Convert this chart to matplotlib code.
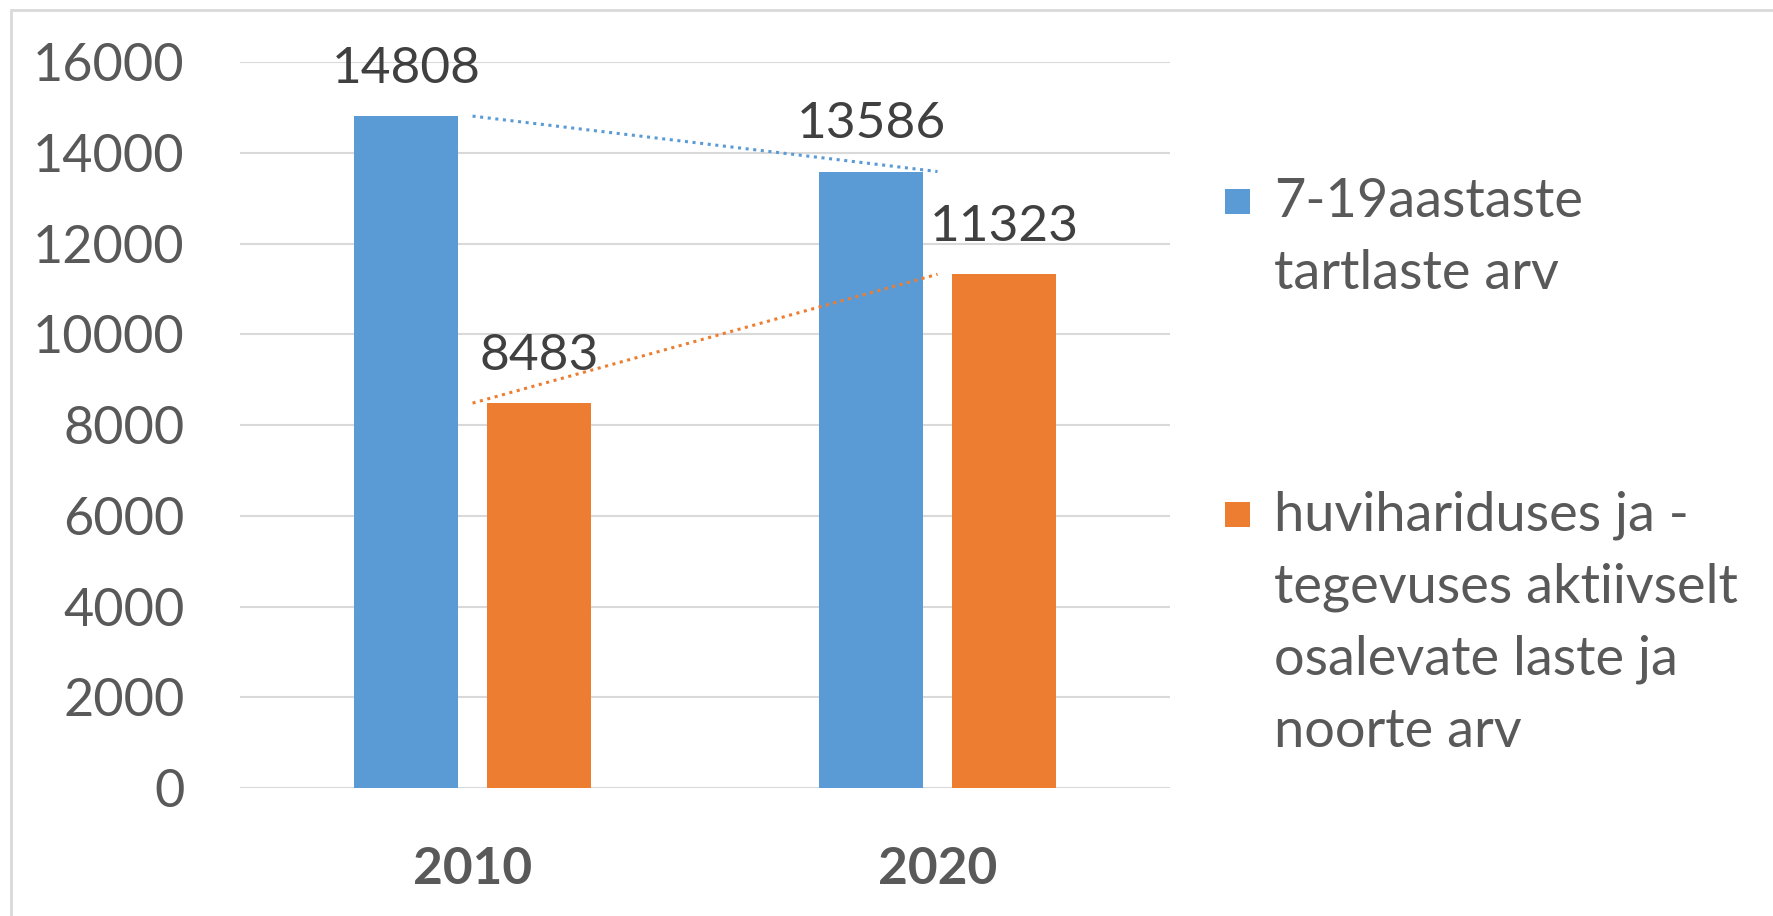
import matplotlib.pyplot as plt
import numpy as np
from matplotlib.patches import Rectangle

# data
years = ["2010", "2020"]
children_total = [14808, 13586]
children_active = [8483, 11323]
legend_labels = ["7-19aastaste\ntartlaste arv",
                 "huvihariduses ja -\ntegevuses aktiivselt\nosalevate laste ja\nnoorte arv"]
y_ticks = [0, 2000, 4000, 6000, 8000, 10000, 12000, 14000, 16000]

BLUE = "#5B9BD5"
ORANGE = "#ED7D31"
TICK_GREY = "#595959"
LABEL_GREY = "#404040"
FONT = "Lato"

plt.rcParams["font.family"] = [FONT, "DejaVu Sans"]

fig = plt.figure(figsize=(17.73, 9.16), dpi=100)
ax = fig.add_axes([0.1354, 0.1397, 0.5245, 0.7926])

x = np.arange(len(years))
width = 0.224
gap = 0.062
offset = (width + gap) / 2

bars_blue = ax.bar(x - offset, children_total, width, color=BLUE, zorder=2)
bars_orange = ax.bar(x + offset, children_active, width, color=ORANGE, zorder=2)

# value labels above each bar
for bars in (bars_blue, bars_orange):
    for b in bars:
        ax.annotate(f"{int(b.get_height())}", (b.get_x() + b.get_width() / 2, b.get_height()),
                    xytext=(0, 34), textcoords="offset points", ha="center", va="center",
                    fontsize=37, color=LABEL_GREY)

# linear trendlines, dotted
for vals, col in ((children_total, BLUE), (children_active, ORANGE)):
    k, c = np.polyfit(x, vals, 1)
    ax.plot(x, k * x + c, linestyle=(0, (1, 1.5)), color=col, linewidth=2.2, zorder=3)

ax.set_xlim(-0.5, 1.5)
ax.set_ylim(0, 16000)
ax.set_yticks(y_ticks)
ax.set_yticklabels([str(t) for t in y_ticks], fontsize=37.5, color=TICK_GREY)
ax.set_xticks(x)
ax.set_xticklabels(years, fontsize=37, fontweight="bold", color=TICK_GREY)
ax.tick_params(axis="y", length=0, pad=40)
ax.tick_params(axis="x", length=0, pad=42)
ax.grid(axis="y", color="#D9D9D9", linewidth=1.5, zorder=0)
for s in ax.spines.values():
    s.set_visible(False)

# legend drawn by hand so the square sits next to the first line
leg_colors = [BLUE, ORANGE]
leg_tops = [0.780, 0.438]
line_step = 0.079
for lab, col, top in zip(legend_labels, leg_colors, leg_tops):
    fig.patches.append(Rectangle((0.6907, top - 0.0135), 0.0141, 0.027, transform=fig.transFigure,
                                 facecolor=col, edgecolor="none"))
    for i, line in enumerate(lab.split("\n")):
        fig.text(0.7186, top - i * line_step, line, fontsize=39, color=TICK_GREY,
                 ha="left", va="center")

# outer frame of the chart area
fig.patches.append(Rectangle((0.0062, -0.05), 1.2, 1.039, transform=fig.transFigure,
                             facecolor="none", edgecolor="#D9D9D9", linewidth=2))

fig.savefig("out.png", dpi=100)
